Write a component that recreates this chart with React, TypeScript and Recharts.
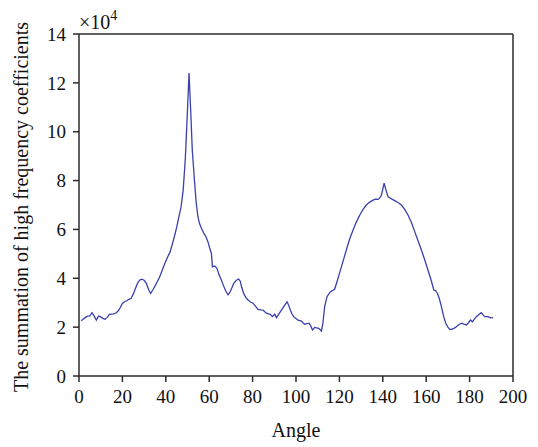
import { LineChart, Line, XAxis, YAxis, ReferenceLine } from 'recharts';

// angle (degrees) and summation value (x10^4)
const ANGLES = [
  1, 2, 3, 4, 5, 6, 7, 8, 9, 10, 11, 12, 13, 14, 15, 16, 17, 18, 19, 20,
  21, 22, 23, 24, 25, 26, 27, 28, 29, 30, 31, 32, 33, 34, 35, 36, 37, 38, 39, 40,
  41, 42, 43, 44, 45, 46, 47, 48, 49, 50, 50.7, 51.5, 52.2, 53.3, 54, 54.8, 55.5, 56.4, 57.5, 58.5,
  59.4, 60.2, 61, 61.5, 62.5, 63.6, 64.5, 65.6, 66.5, 67.5, 68.7, 69.5, 70.5, 71.3, 72.5, 73.6, 74.3, 75, 76, 77,
  78, 79, 80.2, 81.3, 82.5, 83.7, 84.8, 85.6, 86.4, 87.3, 88.2, 89.1, 90.2, 91, 92.2, 93.3, 94.6, 95.9, 96.7, 97.4,
  98.1, 98.9, 100, 100.9, 102.5, 103.2, 104, 105, 106, 106.8, 107.6, 108.6, 109.5, 110.5, 111.7, 112.4, 113.2, 114.3, 115.9, 117.8,
  118.9, 120.2, 121.7, 123.2, 124.7, 126.3, 127.8, 129.4, 130.9, 132.4, 134, 135.5, 136.7, 137.8, 138.7, 139.4, 140, 140.6, 141.5, 142.4,
  144, 145.5, 147, 148.6, 150.1, 151.6, 153.2, 154.7, 156.2, 157.8, 159.3, 160.8, 162.2, 163.5, 164.3, 165.2, 166.1, 167, 168, 169,
  170, 170.8, 171.6, 172.8, 173.9, 175, 176.2, 177.3, 178.5, 179.5, 180.4, 181.3, 182.2, 183.1, 184.3, 185.4, 186.2, 187, 188.5, 189.6,
  190.8,
];

const SUMMATION = [
  2.26, 2.33, 2.4, 2.45, 2.46, 2.59, 2.45, 2.29, 2.45, 2.42, 2.36, 2.32, 2.4, 2.52, 2.53, 2.54, 2.58, 2.66, 2.8, 2.97,
  3.04, 3.08, 3.14, 3.18, 3.35, 3.58, 3.8, 3.93, 3.96, 3.92, 3.8, 3.55, 3.38, 3.52, 3.68, 3.85, 4.02, 4.25, 4.48, 4.7,
  4.9, 5.08, 5.4, 5.72, 6.08, 6.5, 6.9, 7.6, 8.9, 10.9, 12.4, 10.8, 9.25, 7.89, 7.1, 6.52, 6.25, 6.05, 5.85, 5.7,
  5.5, 5.25, 5.02, 4.47, 4.5, 4.41, 4.15, 3.93, 3.72, 3.5, 3.32, 3.42, 3.62, 3.79, 3.92, 3.97, 3.88, 3.62, 3.35, 3.2,
  3.1, 3.03, 2.98, 2.86, 2.73, 2.71, 2.7, 2.63, 2.57, 2.54, 2.52, 2.43, 2.53, 2.39, 2.55, 2.7, 2.87, 3.04, 2.88, 2.7,
  2.55, 2.43, 2.35, 2.29, 2.25, 2.18, 2.12, 2.14, 2.16, 2.05, 1.88, 1.99, 1.97, 1.95, 1.84, 2.16, 2.84, 3.25, 3.45, 3.55,
  3.86, 4.25, 4.7, 5.16, 5.6, 5.98, 6.3, 6.59, 6.82, 7.0, 7.12, 7.2, 7.24, 7.23, 7.3, 7.41, 7.65, 7.89, 7.6, 7.34,
  7.25, 7.18, 7.1, 7.0, 6.82, 6.59, 6.28, 5.91, 5.55, 5.16, 4.76, 4.34, 3.95, 3.52, 3.5, 3.38, 3.15, 2.84, 2.45, 2.16,
  2.0, 1.91, 1.91, 1.95, 2.02, 2.1, 2.16, 2.12, 2.09, 2.18, 2.29, 2.22, 2.33, 2.43, 2.52, 2.59, 2.5, 2.43, 2.43, 2.38,
  2.39,
];

const X_TICKS = [0, 20, 40, 60, 80, 100, 120, 140, 160, 180, 200];
const Y_TICKS = [0, 2, 4, 6, 8, 10, 12, 14];

const FONT = '"Liberation Serif", "DejaVu Serif", serif';
const AXIS = '#2b2b2b';
const LINE = '#3a40ad';

const data = ANGLES.map((a, i) => ({ angle: a, value: SUMMATION[i] }));

export default function App() {
  const tick = { fill: '#111', fontSize: 19, fontFamily: FONT };
  return (
    <div style={{ position: 'absolute', left: 0, top: 0, width: 538, height: 447, background: '#fff' }}>
      <LineChart
        width={538}
        height={447}
        data={data}
        margin={{ top: 34, right: 25, left: 24, bottom: 41 }}
      >
        <XAxis
          dataKey="angle"
          type="number"
          domain={[0, 200]}
          ticks={X_TICKS}
          tick={tick}
          tickSize={6}
          tickMargin={8}
          height={30}
          axisLine={{ stroke: AXIS, strokeWidth: 1.5 }}
          tickLine={{ stroke: AXIS, strokeWidth: 1.5 }}
          interval={0}
        />
        <YAxis
          type="number"
          domain={[0, 14]}
          ticks={Y_TICKS}
          tick={tick}
          tickSize={6}
          tickMargin={7}
          width={55}
          axisLine={{ stroke: AXIS, strokeWidth: 1.5 }}
          tickLine={{ stroke: AXIS, strokeWidth: 1.5 }}
          interval={0}
        />
        <ReferenceLine y={14} stroke={AXIS} strokeWidth={1.5} />
        <ReferenceLine x={200} stroke={AXIS} strokeWidth={1.5} />
        <Line
          type="linear"
          dataKey="value"
          stroke={LINE}
          strokeWidth={1.3}
          dot={false}
          isAnimationActive={false}
        />
      </LineChart>
      <svg
        width={538}
        height={447}
        style={{ position: 'absolute', left: 0, top: 0, pointerEvents: 'none' }}
      >
        <text
          x={28}
          y={207}
          transform="rotate(-90 28 207)"
          textAnchor="middle"
          fontFamily={FONT}
          fontSize={20}
          fill="#111"
        >
          The summation of high frequency coefficients
        </text>
        <text x={296} y={437} textAnchor="middle" fontFamily={FONT} fontSize={20} fill="#111">
          Angle
        </text>
        <text x={79} y={29} fill="#111" style={{ fontFamily: FONT, fontSize: 20 }}>
          <tspan style={{ fontSize: 20 }}>×10</tspan>
          <tspan style={{ fontSize: 14 }} dy={-9}>4</tspan>
        </text>
      </svg>
    </div>
  );
}
